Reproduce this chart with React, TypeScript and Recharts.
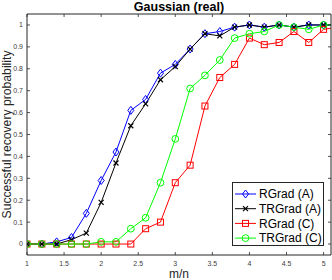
import React from "react";
import { LineChart, Line, XAxis, YAxis, Legend } from "recharts";

const ratios = [1, 1.2, 1.4, 1.6, 1.8, 2, 2.2, 2.4, 2.6, 2.8, 3, 3.2, 3.4, 3.6, 3.8, 4, 4.2, 4.4, 4.6, 4.8, 5, 5.2];
const rgradA = [0, 0, 0.01, 0.03, 0.14, 0.29, 0.42, 0.61, 0.66, 0.78, 0.82, 0.89, 0.96, 0.97, 0.99, 1.0, 0.99, 1.0, 0.99, 1.0, 1.0, 1.0];
const trgradA = [0, 0, 0, 0.02, 0.05, 0.19, 0.37, 0.54, 0.64, 0.75, 0.81, 0.89, 0.96, 0.95, 0.99, 1.0, 0.99, 1.0, 0.99, 1.0, 1.0, 1.0];
const rgradC = [0, 0, 0, 0, 0, 0, 0, 0, 0.07, 0.1, 0.28, 0.36, 0.63, 0.76, 0.82, 0.94, 0.91, 0.92, 0.97, 0.92, 0.98, 0.99];
const trgradC = [0, 0, 0, 0, 0, 0.01, 0.01, 0.07, 0.12, 0.28, 0.48, 0.71, 0.77, 0.84, 0.94, 0.96, 0.97, 1.0, 0.99, 0.98, 1.0, 1.0];

const xTicks = [1, 1.5, 2, 2.5, 3, 3.5, 4, 4.5, 5];
const yTicks = [0, 0.1, 0.2, 0.3, 0.4, 0.5, 0.6, 0.7, 0.8, 0.9, 1];

const seriesNames = ["RGrad (A)", "TRGrad (A)", "RGrad (C)", "TRGrad (C)"];
const seriesColors = ["#0000ff", "#000000", "#ff0000", "#00ff00"];

const data = ratios.map((r, i) => ({
  r,
  a: rgradA[i],
  b: trgradA[i],
  c: rgradC[i],
  d: trgradC[i],
}));

const FONT = "'Liberation Sans', Arial, Helvetica, sans-serif";
const AXIS = "#262626";
const TICKTXT = "#404040";
const TL = 3; // inward tick length
const MARGIN = 4;

const Diamond = (cx: number, cy: number, color: string, key?: any) => (
  <path key={key} d={`M${cx},${cy - 4} L${cx + 3},${cy} L${cx},${cy + 4} L${cx - 3},${cy} Z`} fill="none" stroke={color} strokeWidth={1} />
);
const Cross = (cx: number, cy: number, color: string, key?: any) => (
  <path key={key} d={`M${cx - 2.5},${cy - 2.5} L${cx + 2.5},${cy + 2.5} M${cx - 2.5},${cy + 2.5} L${cx + 2.5},${cy - 2.5}`} fill="none" stroke={color} strokeWidth={1.2} />
);
const Square = (cx: number, cy: number, color: string, key?: any) => (
  <rect key={key} x={cx - 3} y={cy - 3} width={6} height={6} fill="none" stroke={color} strokeWidth={1} />
);
const Circle = (cx: number, cy: number, color: string, key?: any) => (
  <circle key={key} cx={cx} cy={cy} r={3.4} fill="none" stroke={color} strokeWidth={1} />
);
const markers = [Diamond, Cross, Square, Circle];

const makeDot = (idx: number) => (props: any) => {
  const { cx, cy, key, index } = props;
  if (cx == null || cy == null) return <g key={key ?? index} />;
  return markers[idx](cx, cy, seriesColors[idx], key ?? `dot-${idx}-${index}`);
};

const fmt = (v: number) => (Number.isInteger(v) ? String(v) : v.toFixed(1));

const LeftTick = (props: any) => {
  const { x, y, payload } = props;
  const ax = x + MARGIN;
  return (
    <g>
      <line x1={ax} x2={ax + TL} y1={y} y2={y} stroke={AXIS} strokeWidth={0.8} />
      <text x={x} y={y} dy="0.35em" textAnchor="end" fontSize={7} fill={TICKTXT} fontFamily={FONT}>
        {fmt(payload.value)}
      </text>
    </g>
  );
};
const RightTick = (props: any) => {
  const { x, y } = props;
  const ax = x - MARGIN;
  return <line x1={ax} x2={ax - TL} y1={y} y2={y} stroke={AXIS} strokeWidth={0.8} />;
};
const BottomTick = (props: any) => {
  const { x, y, payload } = props;
  const ay = y - MARGIN;
  return (
    <g>
      <line x1={x} x2={x} y1={ay} y2={ay - TL} stroke={AXIS} strokeWidth={0.8} />
      <text x={x} y={y + 2} dy="0.71em" textAnchor="middle" fontSize={7} fill={TICKTXT} fontFamily={FONT}>
        {fmt(payload.value)}
      </text>
    </g>
  );
};
const TopTick = (props: any) => {
  const { x, y } = props;
  const ay = y + MARGIN;
  return <line x1={x} x2={x} y1={ay} y2={ay + TL} stroke={AXIS} strokeWidth={0.8} />;
};

const TitleLabel = (props: any) => {
  const vb = props.viewBox || {};
  return (
    <text x={vb.x + vb.width / 2} y={10.5} textAnchor="middle" fontSize={12.5} fontWeight="bold" fill="#000" fontFamily={FONT}>
      Gaussian (real)
    </text>
  );
};
const XLabel = (props: any) => {
  const vb = props.viewBox || {};
  return (
    <text x={vb.x + vb.width / 2} y={277.5} textAnchor="middle" fontSize={12} fill="#262626" fontFamily={FONT}>
      m/n
    </text>
  );
};
const YLabel = (props: any) => {
  const vb = props.viewBox || {};
  const cy = vb.y + vb.height / 2;
  return (
    <text x={10.5} y={cy} transform={`rotate(-90, 10.5, ${cy})`} textAnchor="middle" fontSize={12.2} fill="#262626" fontFamily={FONT}>
      Successful recovery probability
    </text>
  );
};

const LegendBox = () => (
  <svg width={93} height={65} style={{ display: "block" }}>
    <rect x={0.5} y={0.5} width={91} height={63} fill="#fff" stroke={AXIS} strokeWidth={1} />
    {seriesNames.map((n, i) => {
      const cy = 12 + i * 14.7;
      return (
        <g key={n}>
          <line x1={3} x2={24} y1={cy} y2={cy} stroke={seriesColors[i]} strokeWidth={1} />
          {markers[i](13.5, cy, seriesColors[i])}
          <text x={27} y={cy} dy="0.36em" fontSize={12} fill="#000" fontFamily={FONT}>
            {n}
          </text>
        </g>
      );
    })}
  </svg>
);

export default function App() {
  const keys = ["a", "b", "c", "d"];
  return (
    <div style={{ position: "absolute", left: 0, top: 0, width: 332, height: 280, background: "#fff" }}>
      <LineChart width={332} height={280} data={data} margin={{ top: 0, right: 0, bottom: 0, left: 0 }}>
        <XAxis
          xAxisId="bottom"
          dataKey="r"
          type="number"
          domain={[1, 5.1]}
          allowDataOverflow
          ticks={xTicks}
          orientation="bottom"
          height={25}
          tickSize={0}
          tickMargin={MARGIN}
          tickLine={false}
          tick={<BottomTick />}
          axisLine={{ stroke: AXIS, strokeWidth: 1 }}
          interval={0}
          label={{ content: <XLabel /> } as any}
        />
        <XAxis
          xAxisId="top"
          dataKey="r"
          type="number"
          domain={[1, 5.1]}
          allowDataOverflow
          ticks={xTicks}
          orientation="top"
          height={14}
          tickSize={0}
          tickMargin={MARGIN}
          tickLine={false}
          tick={<TopTick />}
          axisLine={{ stroke: AXIS, strokeWidth: 1 }}
          interval={0}
          label={{ content: <TitleLabel /> } as any}
        />
        <YAxis
          yAxisId="left"
          type="number"
          domain={[-0.05, 1.05]}
          allowDataOverflow
          ticks={yTicks}
          orientation="left"
          width={27}
          tickSize={0}
          tickMargin={MARGIN}
          tickLine={false}
          tick={<LeftTick />}
          axisLine={{ stroke: AXIS, strokeWidth: 1 }}
          interval={0}
          label={{ content: <YLabel /> } as any}
        />
        <YAxis
          yAxisId="right"
          type="number"
          domain={[-0.05, 1.05]}
          allowDataOverflow
          ticks={yTicks}
          orientation="right"
          width={1}
          tickSize={0}
          tickMargin={MARGIN}
          tickLine={false}
          tick={<RightTick />}
          axisLine={{ stroke: AXIS, strokeWidth: 1 }}
          interval={0}
        />
        {keys.map((k, i) => (
          <Line
            key={k}
            xAxisId="bottom"
            yAxisId="left"
            dataKey={k}
            name={seriesNames[i]}
            stroke={seriesColors[i]}
            strokeWidth={1}
            dot={makeDot(i)}
            activeDot={false}
            isAnimationActive={false}
            type="linear"
          />
        ))}
        <Legend
          layout="vertical"
          align="center"
          verticalAlign="middle"
          content={<LegendBox />}
          wrapperStyle={{ left: 232, top: 182, width: 93, height: 65 }}
        />
      </LineChart>
    </div>
  );
}
